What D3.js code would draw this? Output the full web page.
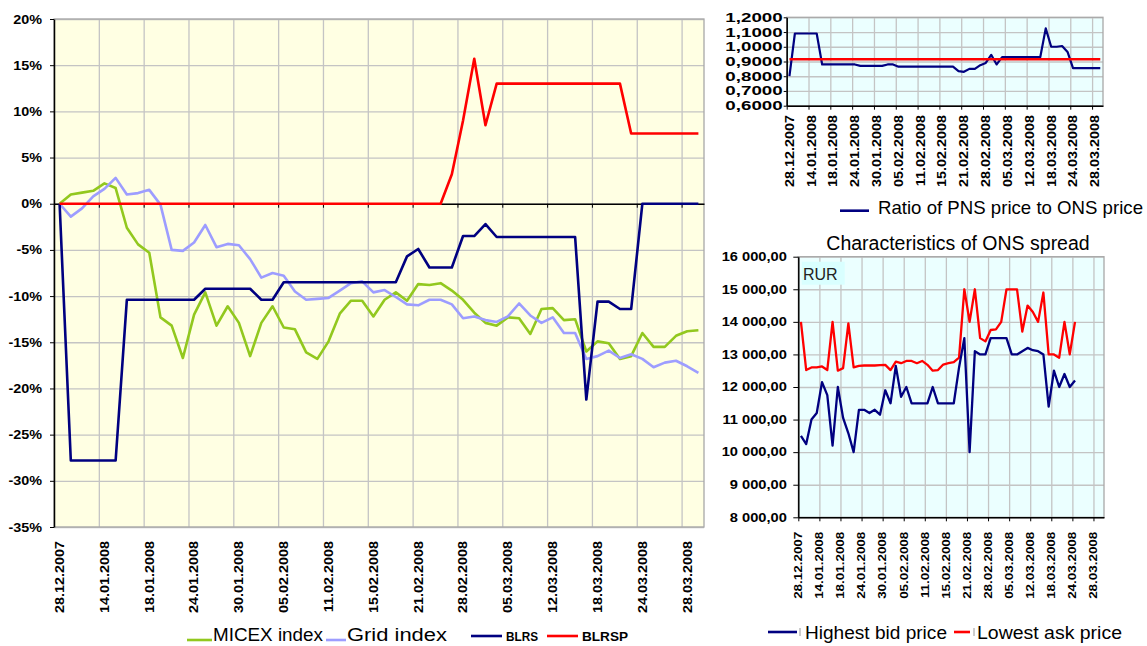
<!DOCTYPE html>
<html>
<head>
<meta charset="utf-8">
<script src="https://cdn.jsdelivr.net/npm/d3@7"></script>
<style>
  body { margin: 0; background: #fff; }
  svg { display: block; font-family: "Liberation Sans", Arial, sans-serif; }
</style>
</head>
<body>
<svg id="chart" width="1147" height="646"></svg>
<script>
// trading days, 28.12.2007 - 31.03.2008
const dates = ["28.12.2007","29.12.2007","10.01.2008","11.01.2008","14.01.2008","15.01.2008","16.01.2008","17.01.2008",
  "18.01.2008","21.01.2008","22.01.2008","23.01.2008","24.01.2008","25.01.2008","28.01.2008","29.01.2008",
  "30.01.2008","31.01.2008","01.02.2008","04.02.2008","05.02.2008","06.02.2008","07.02.2008","08.02.2008",
  "11.02.2008","12.02.2008","13.02.2008","14.02.2008","15.02.2008","18.02.2008","19.02.2008","20.02.2008",
  "21.02.2008","22.02.2008","26.02.2008","27.02.2008","28.02.2008","29.02.2008","03.03.2008","04.03.2008",
  "05.03.2008","06.03.2008","07.03.2008","11.03.2008","12.03.2008","13.03.2008","14.03.2008","17.03.2008",
  "18.03.2008","19.03.2008","20.03.2008","21.03.2008","24.03.2008","25.03.2008","26.03.2008","27.03.2008",
  "28.03.2008","31.03.2008"];
const labelEvery = 4;

// main chart, % change
const micex = [0,1.0,1.2,1.4,2.2,1.7,-2.6,-4.4,-5.3,-12.3,-13.2,-16.7,-12.0,-9.6,-13.2,-11.1,
  -12.9,-16.5,-12.9,-11.1,-13.4,-13.6,-16.1,-16.8,-14.9,-11.9,-10.5,-10.5,-12.2,-10.4,-9.6,-10.5,
  -8.7,-8.8,-8.6,-9.4,-10.4,-11.8,-12.9,-13.2,-12.3,-12.4,-14.1,-11.4,-11.3,-12.6,-12.5,-16.0,
  -14.9,-15.1,-16.8,-16.5,-14.0,-15.5,-15.5,-14.3,-13.8,-13.7];
const gridIdx = [0,-1.4,-0.5,0.8,1.6,2.8,1.0,1.15,1.5,-0.1,-5.0,-5.1,-4.2,-2.3,-4.7,-4.35,
  -4.5,-6.0,-8.0,-7.5,-7.8,-9.5,-10.4,-10.3,-10.2,-9.4,-8.6,-8.4,-9.6,-9.35,-10.1,-10.9,
  -11.0,-10.4,-10.4,-10.9,-12.4,-12.2,-12.6,-12.8,-12.2,-10.8,-12.1,-12.9,-12.3,-14.0,-14.0,-16.8,
  -16.5,-15.9,-16.7,-16.3,-16.8,-17.7,-17.2,-17.0,-17.6,-18.3];
const blrs = [0,-27.8,-27.8,-27.8,-27.8,-27.8,-10.4,-10.4,-10.4,-10.4,-10.4,-10.4,-10.4,-9.2,-9.2,-9.2,
  -9.2,-9.2,-10.4,-10.4,-8.5,-8.5,-8.5,-8.5,-8.5,-8.5,-8.5,-8.5,-8.5,-8.5,-8.5,-5.7,
  -4.9,-6.9,-6.9,-6.9,-3.5,-3.5,-2.2,-3.6,-3.6,-3.6,-3.6,-3.6,-3.6,-3.6,-3.6,-21.2,
  -10.6,-10.6,-11.4,-11.4,0,0,0,0,0,0];
const blrsp = [0,0,0,0,0,0,0,0,0,0,0,0,0,0,0,0,
  0,0,0,0,0,0,0,0,0,0,0,0,0,0,0,0,
  0,0,0,3.2,9.0,15.7,8.5,13.0,13.0,13.0,13.0,13.0,13.0,13.0,13.0,13.0,
  13.0,13.0,13.0,7.6,7.6,7.6,7.6,7.6,7.6,7.6];
const pctTicks = [20,15,10,5,0,-5,-10,-15,-20,-25,-30,-35];

// top right: ratio of PNS price to ONS price
const ratio = [0.80,1.09,1.09,1.09,1.09,1.09,0.88,0.88,0.88,0.88,0.88,0.88,0.88,0.87,0.87,0.87,
  0.87,0.87,0.88,0.88,0.865,0.865,0.865,0.865,0.865,0.865,0.865,0.865,0.865,0.865,0.865,0.835,
  0.83,0.85,0.85,0.875,0.89,0.945,0.88,0.93,0.93,0.93,0.93,0.93,0.93,0.93,0.93,1.125,
  1.0,1.0,1.005,0.965,0.855,0.855,0.855,0.855,0.855,0.855];
const ratioAvg = 0.915;
const ratioTicks = [1.2,1.1,1.0,0.9,0.8,0.7,0.6];

// bottom right: ONS spread, RUR
const bidPrice = [10500,10250,11000,11200,12150,11750,10200,12000,11050,10580,10000,11300,11300,11200,11300,11150,
  11900,11500,12650,11700,12000,11500,11500,11500,11500,12000,11500,11500,11500,11500,12600,13500,
  10000,13100,13000,13000,13500,13500,13500,13500,13000,13000,13100,13200,13130,13100,13000,11400,
  12500,12000,12400,12000,12200];
const askPrice = [14000,12520,12600,12600,12630,12520,14000,12500,12580,13950,12600,12650,12660,12660,12660,12670,
  12680,12520,12780,12730,12800,12800,12730,12800,12680,12500,12520,12690,12730,12760,12900,15000,
  14000,15000,13500,13400,13750,13770,14000,15000,15000,15000,13700,14500,14300,14000,14900,13000,
  13000,12900,14000,13000,14000];
const rurTicks = [16000,15000,14000,13000,12000,11000,10000,9000,8000];

const svg = d3.select("#chart");
const labelIdx = d3.range(0, dates.length, labelEvery);

// stretch text to mimic the scaled screenshot lettering
function stretch(sel, k) {
  sel.each(function() {
    const w = this.getComputedTextLength();
    d3.select(this).attr("textLength", w * k).attr("lengthAdjust", "spacingAndGlyphs");
  });
}

function panel(o) {
  const x = d3.scaleLinear().domain([0, dates.length]).range([o.left, o.right]);
  const y = d3.scaleLinear().domain(o.yDomain).range([o.bottom, o.top]);
  const g = svg.append("g");

  g.append("rect")
    .attr("x", o.left).attr("y", o.top)
    .attr("width", o.right - o.left).attr("height", o.bottom - o.top)
    .attr("fill", o.bg);

  // grid
  g.append("g")
    .attr("transform", "translate(0," + o.bottom + ")")
    .call(d3.axisBottom(x).tickValues(d3.range(labelEvery, dates.length, labelEvery))
      .tickSize(-(o.bottom - o.top)).tickFormat(""))
    .call(s => s.select(".domain").remove())
    .selectAll("line").attr("stroke", "#c4c4c4").attr("stroke-width", 1.3);
  g.append("g")
    .attr("transform", "translate(" + o.left + ",0)")
    .call(d3.axisLeft(y).tickValues(o.yTicks).tickSize(-(o.right - o.left)).tickFormat(""))
    .call(s => s.select(".domain").remove())
    .selectAll("line").attr("stroke", "#c4c4c4").attr("stroke-width", 1.3);

  g.append("rect")
    .attr("x", o.left).attr("y", o.top)
    .attr("width", o.right - o.left).attr("height", o.bottom - o.top)
    .attr("fill", "none").attr("stroke", "#a8a8a8").attr("stroke-width", 1.3);

  // axes
  const ya = g.append("g")
    .attr("transform", "translate(" + o.left + ",0)")
    .attr("color", "#000")
    .call(d3.axisLeft(y).tickValues(o.yTicks).tickSize(o.yTick).tickSizeOuter(0)
      .tickPadding(o.yPad).tickFormat(o.yFormat));
  ya.select(".domain").attr("stroke-width", 1.5);
  ya.selectAll("text").attr("font-family", "Liberation Sans, Arial, sans-serif")
    .attr("font-size", o.yFont).attr("font-weight", "bold").call(stretch, o.yStretch);

  const xa = g.append("g")
    .attr("transform", "translate(0," + y(o.xAxisAt) + ")")
    .attr("color", "#000")
    .call(d3.axisBottom(x).tickValues(labelIdx).tickSize(4).tickSizeOuter(0).tickFormat(""));
  xa.select(".domain").attr("stroke-width", 1.5);

  g.append("g").selectAll("text")
    .data(labelIdx)
    .join("text")
    .attr("transform", i => "translate(" + x(i + o.labelShift) + "," + o.labelTop + ") rotate(-90)")
    .attr("text-anchor", "end")
    .attr("dy", "0.35em")
    .attr("font-size", o.xFont)
    .attr("font-weight", "bold")
    .text(i => dates[i])
    .call(stretch, o.xStretch);

  return { g, x, y };
}

function drawLine(p, values, color, width) {
  const line = d3.line().x((d, i) => p.x(i + 0.5)).y(d => p.y(d));
  p.g.append("path")
    .datum(values)
    .attr("d", line)
    .attr("fill", "none")
    .attr("stroke", color)
    .attr("stroke-width", width)
    .attr("stroke-linejoin", "round");
}

// ---- main chart ----
const mainChart = panel({
  left: 54, right: 704, top: 19, bottom: 527,
  yDomain: [-35, 20], yTicks: pctTicks, bg: "#ffffe3",
  yTick: 4, yPad: 8, yFont: 12.5, yStretch: 1.15, yFormat: d => d + "%",
  xAxisAt: 0, labelShift: 0.5, labelTop: 541, xFont: 12.5, xStretch: 1.15
});
drawLine(mainChart, micex, "#92c81e", 2.6);
drawLine(mainChart, gridIdx, "#9d9dff", 2.6);
drawLine(mainChart, blrs, "#000080", 2.6);
drawLine(mainChart, blrsp, "#ff0000", 2.6);

// ---- top right chart ----
const ratioChart = panel({
  left: 786.7, right: 1103, top: 17.3, bottom: 105.7,
  yDomain: [0.6, 1.2], yTicks: ratioTicks, bg: "#ebffff",
  yTick: 3, yPad: 1, yFont: 12.5, yStretch: 1.5,
  yFormat: d3.formatLocale({decimal: ",", thousands: " ", grouping: [3], currency: ["", ""]}).format(".4f"),
  xAxisAt: 0.6, labelShift: 0.5, labelTop: 115, xFont: 12.5, xStretch: 1.15
});
drawLine(ratioChart, ratio, "#000080", 2.2);
ratioChart.g.append("line")
  .attr("x1", ratioChart.x(0.5)).attr("x2", ratioChart.x(dates.length - 0.5))
  .attr("y1", ratioChart.y(ratioAvg)).attr("y2", ratioChart.y(ratioAvg))
  .attr("stroke", "#ff0000").attr("stroke-width", 2.6);

// ---- bottom right chart ----
const rurFmt = d3.formatLocale({decimal: ",", thousands: " ", grouping: [3], currency: ["", ""]}).format(",.2f");
const spreadChart = panel({
  left: 798.3, right: 1104, top: 256.7, bottom: 517.3,
  yDomain: [8000, 16000], yTicks: rurTicks, bg: "#ebffff",
  yTick: 5, yPad: 6.5, yFont: 12, yStretch: 1.22, yFormat: rurFmt,
  xAxisAt: 8000, labelShift: 0, labelTop: 531.7, xFont: 11, xStretch: 1.22
});
drawLine(spreadChart, askPrice, "#ff0000", 2.3);
drawLine(spreadChart, bidPrice, "#000080", 2.3);

spreadChart.g.append("rect").attr("x", 801.7).attr("y", 261.7).attr("width", 43).attr("height", 23).attr("fill", "#d9ffff");
spreadChart.g.append("text").attr("x", 803).attr("y", 280).attr("font-size", 16).attr("fill", "#222").text("RUR");
svg.append("text").attr("x", 958).attr("y", 250).attr("text-anchor", "middle")
  .attr("font-size", 19.5).text("Characteristics of ONS spread");

// ---- legends ----
const mainLegend = [
  {name: "MICEX index", color: "#92c81e", x1: 187, x2: 212, ly: 640, tx: 213, size: 18, bold: false, w: 110},
  {name: "Grid index", color: "#9d9dff", x1: 326, x2: 346, ly: 640, tx: 347, size: 18, bold: false, w: 100},
  {name: "BLRS", color: "#000080", x1: 471, x2: 502, ly: 636, tx: 506, size: 12, bold: true, w: 32},
  {name: "BLRSP", color: "#ff0000", x1: 547, x2: 578, ly: 636, tx: 582, size: 12, bold: true, w: 46}
];
const rightLegend = [
  {name: "Ratio of PNS price to ONS price", color: "#000080", x1: 840, x2: 869, ly: 210.7, tx: 878, size: 19, bold: false, w: 265, ty: 214},
  {name: "Highest bid price", color: "#000080", x1: 768, x2: 797, ly: 632, tx: 805, size: 17.5, bold: false, w: 142, ty: 638.5, mark: 800},
  {name: "Lowest ask price", color: "#ff0000", x1: 954, x2: 970, ly: 632, tx: 977, size: 17.5, bold: false, w: 145, ty: 638.5, mark: 974}
];
const legend = svg.append("g").selectAll("g")
  .data(mainLegend.concat(rightLegend))
  .join("g");
legend.append("line")
  .attr("x1", d => d.x1).attr("x2", d => d.x2)
  .attr("y1", d => d.ly).attr("y2", d => d.ly)
  .attr("stroke", d => d.color).attr("stroke-width", 2.6);
legend.filter(d => d.mark).append("line")
  .attr("x1", d => d.mark).attr("x2", d => d.mark)
  .attr("y1", d => d.ly - 4).attr("y2", d => d.ly + 4)
  .attr("stroke", "#999").attr("stroke-width", 1);
legend.append("text")
  .attr("x", d => d.tx)
  .attr("y", d => d.ty || (d.bold ? d.ly + 4.5 : d.ly + 1))
  .attr("font-size", d => d.size)
  .attr("font-weight", d => d.bold ? "bold" : "normal")
  .attr("textLength", d => d.w)
  .attr("lengthAdjust", "spacingAndGlyphs")
  .text(d => d.name);
</script>
</body>
</html>
